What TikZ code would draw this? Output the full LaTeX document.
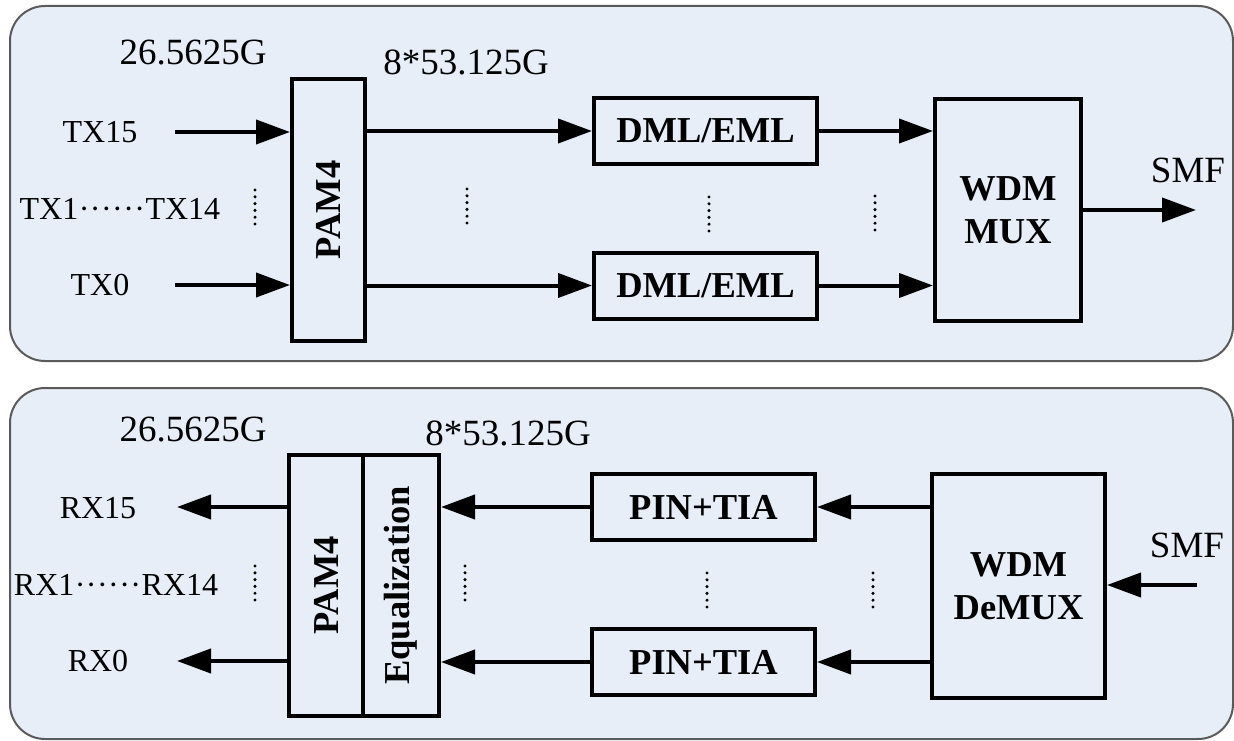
\documentclass[tikz,border=0pt]{standalone}
\usepackage{fontspec}
\setmainfont{Liberation Serif}
\usetikzlibrary{arrows.meta}
\definecolor{panelfill}{RGB}{231,238,248}
\definecolor{panelline}{RGB}{90,90,90}
\newcommand\mydotrow{\hbox to 2.1em{\hss\textperiodcentered\hss\textperiodcentered\hss\textperiodcentered\hss\textperiodcentered\hss\textperiodcentered\hss\textperiodcentered\hss}}
\begin{document}
\begin{tikzpicture}[x=1pt,y=-1pt,
  panel/.style={draw=panelline, fill=panelfill, line width=2pt, rounded corners=35pt},
  box/.style={draw=black, line width=4pt, inner sep=0pt},
  boxtext/.style={font=\fontsize{36.5}{43}\selectfont\bfseries, align=center, inner sep=0pt},
  lbl/.style={font=\fontsize{32}{37}\selectfont, inner sep=0pt},
  rate/.style={font=\fontsize{37}{43}\selectfont, inner sep=0pt},
  sig/.style={line width=4pt, -{Triangle[length=34pt,width=24pt]}},
  vdots/.style={line width=3.4pt, line cap=round, dash pattern=on 0pt off 6.8pt}
]
\useasboundingbox (0,0) rectangle (1234,741);

% ---------------- top panel ----------------
\draw[panel] (10,6) rectangle (1233,361);

\node[box, minimum width=73pt, minimum height=262pt] (pam4T) at (328.5,210) {};
\node[boxtext, rotate=90] (pam4Tt) at (pam4T.center) {PAM4};
\node[box, minimum width=223pt, minimum height=66pt] (dml1) at (705.5,131) {};
\node[boxtext] (dml1t) at (dml1.center) {DML/EML};
\node[box, minimum width=223pt, minimum height=66pt] (dml2) at (705.5,285.5) {};
\node[boxtext] (dml2t) at (dml2.center) {DML/EML};
\node[box, minimum width=146pt, minimum height=222pt] (mux) at (1008,210) {};
\node[boxtext] (muxt) at (mux.center) {WDM\\MUX};

\node[rate] (rT1) at (193,53) {26.5625G};
\node[rate] (rT2) at (466,62) {8*53.125G};
\node[lbl] (tx15) at (100,132) {TX15};
\node[lbl] (txmid) at (120,209) {TX1\mydotrow TX14};
\node[lbl] (tx0) at (100,285) {TX0};
\node[rate] (smfT) at (1188,170) {SMF};

\coordinate (tx15s) at (175,132);
\coordinate (tx0s) at (175,285);
\coordinate (smfTe) at (1196,210);

\draw[sig] (tx15s) -- (tx15s -| pam4T.west);
\draw[sig] (tx0s) -- (tx0s -| pam4T.west);
\draw[sig] (pam4T.east |- dml1.west) -- (dml1.west);
\draw[sig] (pam4T.east |- dml2.west) -- (dml2.west);
\draw[sig] (dml1.east) -- (mux.west |- dml1.east);
\draw[sig] (dml2.east) -- (mux.west |- dml2.east);
\draw[sig] (mux.east) -- (smfTe);

\coordinate (dA1) at (255,190); \coordinate (dA2) at (255,229);
\coordinate (dB1) at (467,189); \coordinate (dB2) at (467,228);
\coordinate (dC1) at (709,197); \coordinate (dC2) at (709,237);
\coordinate (dD1) at (875,196); \coordinate (dD2) at (875,236);
\draw[vdots] (dA1) -- (dA2);
\draw[vdots] (dB1) -- (dB2);
\draw[vdots] (dC1) -- (dC2);
\draw[vdots] (dD1) -- (dD2);

% ---------------- bottom panel ----------------
\draw[panel] (10,388) rectangle (1233,739);

\node[box, minimum width=74pt, minimum height=261pt] (pam4B) at (326,585.5) {};
\node[boxtext, rotate=90] (pam4Bt) at (pam4B.center) {PAM4};
\node[box, minimum width=76pt, minimum height=261pt] (eqB) at (401,585.5) {};
\node[boxtext, rotate=90] (eqBt) at (eqB.center) {Equalization};
\node[box, minimum width=223pt, minimum height=66pt] (pin1) at (703.5,507) {};
\node[boxtext] (pin1t) at (pin1.center) {PIN+TIA};
\node[box, minimum width=223pt, minimum height=66pt] (pin2) at (703.5,662) {};
\node[boxtext] (pin2t) at (pin2.center) {PIN+TIA};
\node[box, minimum width=173pt, minimum height=224pt] (demux) at (1018.5,586) {};
\node[boxtext] (demuxt) at (demux.center) {WDM\\DeMUX};

\node[rate] (rB1) at (193,430) {26.5625G};
\node[rate] (rB2) at (508,433) {8*53.125G};
\node[lbl] (rx15) at (98,508) {RX15};
\node[lbl] (rxmid) at (116,585) {RX1\mydotrow RX14};
\node[lbl] (rx0) at (98,661) {RX0};
\node[rate] (smfB) at (1187,545) {SMF};

\coordinate (rx15e) at (177,507);
\coordinate (rx0e) at (177,661);
\coordinate (smfBs) at (1197,585);

\draw[sig] (demux.west |- pin1.east) -- (pin1.east);
\draw[sig] (demux.west |- pin2.east) -- (pin2.east);
\draw[sig] (pin1.west) -- (eqB.east |- pin1.west);
\draw[sig] (pin2.west) -- (eqB.east |- pin2.west);
\draw[sig] (pam4B.west |- rx15e) -- (rx15e);
\draw[sig] (pam4B.west |- rx0e) -- (rx0e);
\draw[sig] (smfBs) -- (smfBs -| demux.east);

\coordinate (eA1) at (255,566); \coordinate (eA2) at (255,605);
\coordinate (eB1) at (465,566); \coordinate (eB2) at (465,605);
\coordinate (eC1) at (707,573); \coordinate (eC2) at (707,612);
\coordinate (eD1) at (873,573); \coordinate (eD2) at (873,612);
\draw[vdots] (eA1) -- (eA2);
\draw[vdots] (eB1) -- (eB2);
\draw[vdots] (eC1) -- (eC2);
\draw[vdots] (eD1) -- (eD2);
\end{tikzpicture}
\end{document}
